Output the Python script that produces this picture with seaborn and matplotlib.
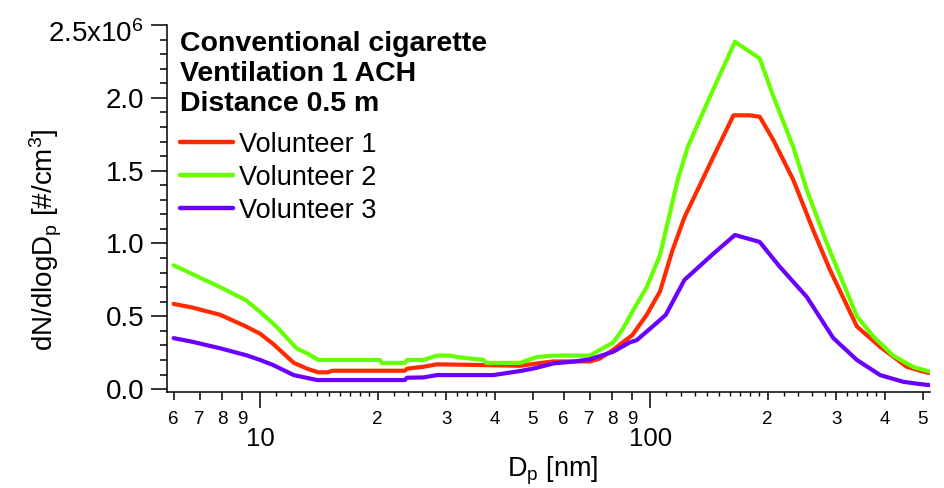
import numpy as np
import pandas as pd
import matplotlib
matplotlib.use("Agg")
import matplotlib.pyplot as plt
import matplotlib.transforms as mtransforms
import seaborn as sns
from matplotlib.ticker import FixedLocator, FixedFormatter, NullLocator, NullFormatter, MultipleLocator

# Particle number size distributions, dN/dlogDp in units of 1e6 #/cm3
SCALE = 1e6

dp_v1 = [6.0, 6.7, 7.9, 9.2, 10.0, 10.8, 12.2, 13.2, 14.1, 14.9, 15.3, 23.5, 23.8, 26.2,
         28.4, 37.4, 46.4, 51.2, 56.5, 70.1, 74.4, 80.4, 85.0, 90.0, 98.0, 106, 114,
         122.5, 145.3, 163.6, 180, 191, 207, 233, 262, 289, 339, 389, 455, 502, 522]
n_v1 = [0.585, 0.56, 0.51, 0.43, 0.38, 0.31, 0.18, 0.14, 0.115, 0.115, 0.126, 0.126, 0.14, 0.153,
        0.17, 0.165, 0.16, 0.176, 0.19, 0.19, 0.21, 0.27, 0.32, 0.37, 0.51, 0.67, 0.95,
        1.18, 1.595, 1.88, 1.88, 1.87, 1.71, 1.435, 1.09, 0.82, 0.43, 0.29, 0.153, 0.12, 0.11]

dp_v2 = [6.0, 6.7, 7.9, 9.2, 10.0, 11.0, 12.4, 13.2, 14.1, 20.3, 20.5, 23.5, 23.8, 26.2,
         28.4, 30.7, 32.0, 37.4, 38.1, 46.4, 51.2, 56.5, 70.1, 74.4, 80.4, 85.0, 90.0, 98.0,
         106, 117.8, 124.8, 142.5, 165, 191, 207, 233, 252, 284, 339, 374, 420, 455, 475, 522]
n_v2 = [0.85, 0.79, 0.70, 0.61, 0.53, 0.43, 0.28, 0.245, 0.20, 0.20, 0.18, 0.18, 0.20, 0.20,
        0.23, 0.23, 0.22, 0.20, 0.18, 0.18, 0.22, 0.23, 0.23, 0.27, 0.32, 0.41, 0.53, 0.70,
        0.92, 1.44, 1.66, 2.01, 2.385, 2.27, 2.01, 1.66, 1.37, 1.0, 0.50, 0.36, 0.23, 0.176, 0.15, 0.12]

dp_v3 = [6.0, 6.7, 7.9, 9.2, 10.0, 10.8, 12.2, 14.0, 23.5, 23.8, 26.2, 28.4, 39.6, 46.4,
         50.4, 56.5, 64.2, 70.1, 80.4, 88.6, 92.4, 101.5, 109.7, 122.5, 145.3, 165, 180,
         191, 215, 252, 295, 339, 389, 446, 490, 522]
n_v3 = [0.35, 0.325, 0.28, 0.233, 0.20, 0.165, 0.096, 0.062, 0.062, 0.078, 0.08, 0.096, 0.096, 0.124,
        0.142, 0.176, 0.19, 0.205, 0.256, 0.32, 0.336, 0.43, 0.51, 0.75, 0.93, 1.058, 1.03,
        1.01, 0.84, 0.634, 0.35, 0.20, 0.096, 0.05, 0.035, 0.027]

series_names = ["Volunteer 1", "Volunteer 2", "Volunteer 3"]
series_colors = ["#FF2A00", "#66FF00", "#6A00FF"]

legend_title = "Conventional cigarette\nVentilation 1 ACH\nDistance 0.5 m"

# Tick positions and labels
x_major_ticks = [10, 100]
x_major_labels = ["10", "100"]
x_minor_ticks = [6, 7, 8, 9, 20, 30, 40, 50, 60, 70, 80, 90, 200, 300, 400, 500]
x_minor_labels = ["6", "7", "8", "9", "2", "3", "4", "5", "6", "7", "8", "9", "2", "3", "4", "5"]
x_fine_ticks = [11, 12, 13, 14, 15, 16, 17, 18, 19, 22, 24, 26, 28, 32, 34, 36, 38,
                110, 120, 130, 140, 150, 160, 170, 180, 190, 220, 240, 260, 280,
                320, 340, 360, 380]
y_ticks = [0.0, 0.5, 1.0, 1.5, 2.0, 2.5]
y_labels = ["0.0", "0.5", "1.0", "1.5", "2.0", r"2.5x10$^{6}$"]

sns.set_style("ticks")
plt.rcParams["font.family"] = ["Liberation Sans", "DejaVu Sans"]
plt.rcParams["mathtext.fontset"] = "custom"
plt.rcParams["mathtext.rm"] = "Liberation Sans"
plt.rcParams["mathtext.it"] = "Liberation Sans:italic"
plt.rcParams["mathtext.bf"] = "Liberation Sans:bold"
plt.rcParams["axes.linewidth"] = 1.1
plt.rcParams["axes.edgecolor"] = "black"
plt.rcParams["text.color"] = "black"
plt.rcParams["axes.labelcolor"] = "black"
plt.rcParams["xtick.color"] = "black"
plt.rcParams["ytick.color"] = "black"

frames = []
for name, dp, n in zip(series_names, [dp_v1, dp_v2, dp_v3], [n_v1, n_v2, n_v3]):
    frames.append(pd.DataFrame({"Dp": dp, "dN": np.asarray(n) * SCALE, "series": name}))
df = pd.concat(frames, ignore_index=True)

fig = plt.figure(figsize=(9.45, 4.88), dpi=100)
ax = fig.add_axes([167 / 945, 96 / 488, (930 - 167) / 945, (392 - 25) / 488])

sns.lineplot(data=df, x="Dp", y="dN", hue="series", hue_order=series_names,
             palette=dict(zip(series_names, series_colors)), estimator=None,
             sort=False, lw=3.0, ax=ax)

ax.set_xscale("log")
ax.set_xlim(5.77, 522)
ax.set_ylim(-0.02 * SCALE, 2.5 * SCALE)
sns.despine(ax=ax)

ax.xaxis.set_major_locator(FixedLocator(x_major_ticks))
ax.xaxis.set_major_formatter(FixedFormatter(x_major_labels))
ax.xaxis.set_minor_locator(FixedLocator(x_minor_ticks))
ax.xaxis.set_minor_formatter(FixedFormatter(x_minor_labels))
ax.tick_params(axis="x", which="major", direction="out", length=11.5, width=1.1,
               labelsize=18.5, pad=14, color="black")
ax.tick_params(axis="x", which="minor", direction="out", length=5.5, width=1.1,
               labelsize=13.5, pad=8, color="black")

ax.yaxis.set_major_locator(FixedLocator([v * SCALE for v in y_ticks]))
ax.yaxis.set_major_formatter(FixedFormatter(y_labels))
ax.yaxis.set_minor_locator(MultipleLocator(0.1 * SCALE))
ax.tick_params(axis="y", which="major", direction="out", length=11.5, width=1.1,
               labelsize=20, pad=5, color="black")
ax.tick_params(axis="y", which="minor", direction="out", length=5, width=1.1, color="black")

# finer unlabeled ticks on the log axis
sec = ax.secondary_xaxis("bottom")
sec.xaxis.set_major_locator(FixedLocator(x_fine_ticks))
sec.xaxis.set_major_formatter(NullFormatter())
sec.xaxis.set_minor_locator(NullLocator())
sec.tick_params(axis="x", which="major", direction="out", length=3, width=1.0, color="black")
sec.spines["bottom"].set_visible(False)

ax.set_xlabel(r"D$_{\mathrm{p}}$ [nm]", fontsize=19.5)
ax.xaxis.set_label_coords(0.505, -0.17)
ax.set_ylabel(r"dN/dlogD$_{\mathrm{p}}$ [#/cm$^{\mathrm{3}}$]", fontsize=20, va="center")
ax.yaxis.set_label_coords(-0.159, 0.414)

handles, labels = ax.get_legend_handles_labels()
for h in handles:
    h.set_linewidth(3.2)
leg = ax.legend(handles, labels, title=legend_title,
                title_fontproperties={"weight": "bold", "size": 20.5}, fontsize=19.5,
                alignment="left", frameon=False, loc="upper left",
                bbox_to_anchor=(0.017, 0.985), borderpad=0, borderaxespad=0,
                handlelength=1.95, handletextpad=0.22, labelspacing=0.26)
# a bit more room between the bold heading and the entries
leg._legend_box.sep += 5.8

# the top label carries an exponent; drop it a little so its digits sit like the others
fig.canvas.draw()
top_label = ax.yaxis.get_major_ticks()[-1].label1
top_label.set_transform(top_label.get_transform() +
                        mtransforms.ScaledTranslation(0, -6 / 100, fig.dpi_scale_trans))

fig.savefig("out.png", dpi=100)
